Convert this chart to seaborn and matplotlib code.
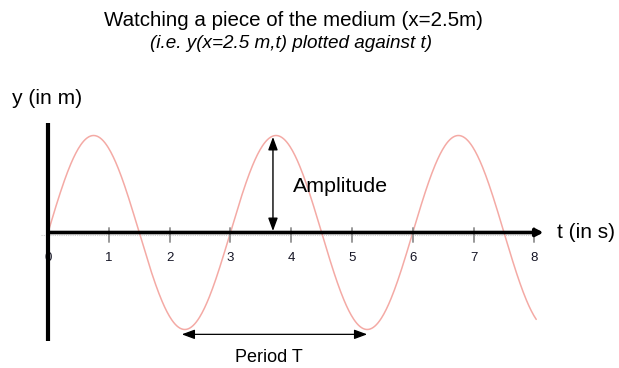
import numpy as np
import pandas as pd
import matplotlib
matplotlib.use("Agg")
import matplotlib.pyplot as plt
import seaborn as sns

# Wave seen at one point of the medium (x = 2.5 m)
amplitude = 1.0          # peak displacement (arbitrary units on the y axis)
period = 3.0             # period T in seconds
t_start, t_end = 0.0, 8.03
tick_values = [0, 1, 2, 3, 4, 5, 6, 7, 8]
tick_labels = ["0", "1", "2", "3", "4", "5", "6", "7", "8"]

# Amplitude arrow sits near a crest, period arrow spans one trough to the next
amp_arrow_t = 3.70
period_arrow_t = [2.20, 5.25]

t = np.linspace(t_start, t_end, 600)
wave = pd.DataFrame({"t": t, "y": amplitude * np.sin(2 * np.pi * t / period)})

sns.set_theme(style="white")
plt.rcParams["font.family"] = ["Liberation Sans", "DejaVu Sans"]

W, H = 619, 368
fig = plt.figure(figsize=(W / 100, H / 100), dpi=100)
ax = fig.add_axes([0, 0, 1, 1])

# pixel layout: t=0 at x=48 px, 60.8 px per second; y=0 at 232.5 px, 97 px per unit
px_per_s = 60.8
px_per_y = 97.0
ax.set_xlim(-48 / px_per_s, (W - 48) / px_per_s)
ax.set_ylim((232.5 - H) / px_per_y, 232.5 / px_per_y)
ax.axis("off")

sns.lineplot(data=wave, x="t", y="y", ax=ax, color="#f4aaa5", linewidth=1.1,
             sort=False, zorder=2)

# faint dotted guide under the time axis
ax.plot([-0.12, 8.0], [-0.03, -0.03], color="#cccccc", lw=0.8, ls=(0, (1, 1)), zorder=1)

# tick marks and labels on the time axis
for v, lab in zip(tick_values, tick_labels):
    ax.plot([v, v], [0.05, -0.10], color="#999999", lw=1.4, zorder=3)
    ax.text(v, -0.265, lab, ha="center", va="center", fontsize=9.5,
            color="#141424", zorder=4)

# axes drawn as thick black lines
ax.plot([0, 0], [1.13, -1.12], color="black", lw=3, solid_capstyle="butt", zorder=5)
ax.annotate("", xy=(8.15, 0), xytext=(0, 0),
            arrowprops=dict(arrowstyle="-|>,head_length=0.35,head_width=0.18",
                            color="black", lw=2.6, shrinkA=0, shrinkB=0), zorder=5)

# amplitude arrow
ax.annotate("", xy=(amp_arrow_t, amplitude * 0.985), xytext=(amp_arrow_t, 0.015),
            arrowprops=dict(arrowstyle="<|-|>,head_length=0.65,head_width=0.24",
                            color="black", lw=1.0, shrinkA=0, shrinkB=0), zorder=6)

# period arrow
ax.annotate("", xy=(period_arrow_t[1], -1.05), xytext=(period_arrow_t[0], -1.05),
            arrowprops=dict(arrowstyle="<|-|>,head_length=0.65,head_width=0.24",
                            color="black", lw=0.9, shrinkA=0, shrinkB=0), zorder=6)


def px_text(x, y, s, width, ha="center", **kw):
    """Place text at pixel (x, y from top) and size it to a given pixel width."""
    txt = fig.text(x / W, 1 - y / H, s, ha=ha, va="center", color="black", **kw)
    renderer = fig.canvas.get_renderer()
    for _ in range(2):
        w = txt.get_window_extent(renderer).width
        txt.set_fontsize(txt.get_fontsize() * width / w)
    return txt


fig.canvas.draw()
px_text(293.5, 20, "Watching a piece of the medium (x=2.5m)", 379, fontsize=14)
px_text(290.5, 43, "(i.e. y(x=2.5 m,t) plotted against t)", 283, fontsize=12,
        style="italic")
px_text(12, 99, "y (in m)", 70, ha="left", fontsize=14)
px_text(557, 233, "t (in s)", 58, ha="left", fontsize=14)
px_text(293, 187, "Amplitude", 95, ha="left", fontsize=14)
px_text(269, 357, "Period T", 68, fontsize=10)

fig.savefig("out.png", dpi=100, facecolor="white")
